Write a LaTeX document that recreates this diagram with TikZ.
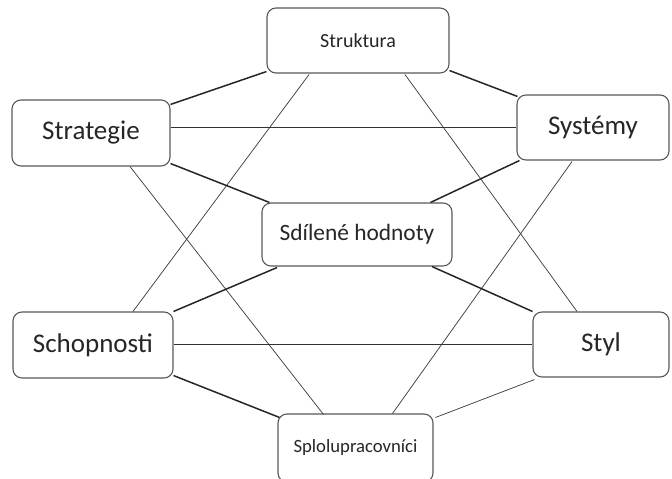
\documentclass[tikz,border=0pt]{standalone}
\usepackage{fontspec}
\setmainfont{Carlito}
\usetikzlibrary{calc}

\begin{document}
\begin{tikzpicture}[x=1pt,y=-1pt,
  box/.style={draw=black!65, line width=1.1pt, rounded corners=9pt,
    fill=white, inner sep=0pt, text=black!85},
  bold/.style={draw=black!85, line width=1.5pt},
  mid/.style={draw=black!80, line width=1.0pt},
  thin/.style={draw=black!75, line width=0.75pt}]

\useasboundingbox (0,0) rectangle (672,479);

% the seven elements
\node[box, minimum width=182pt, minimum height=65pt, font=\fontsize{20}{24}\selectfont]
  (struk) at (358,40.5) {Struktura};
\node[box, minimum width=158pt, minimum height=66pt, font=\fontsize{27}{32}\selectfont]
  (strat) at (91,133) {Strategie};
\node[box, minimum width=152pt, minimum height=65pt, font=\fontsize{27}{32}\selectfont]
  (syst) at (593,127.5) {Systémy};
\node[box, minimum width=190pt, minimum height=63pt, font=\fontsize{23.4}{28}\selectfont]
  (sdil) at (357,234.5) {Sdílené hodnoty};
\node[box, minimum width=160pt, minimum height=66pt, font=\fontsize{27}{32}\selectfont]
  (schop) at (93,345) {Schopnosti};
\node[box, minimum width=136pt, minimum height=65pt, font=\fontsize{27}{32}\selectfont]
  (styl) at (601,344.5) {Styl};
\node[box, minimum width=155pt, minimum height=68pt, font=\fontsize{18.7}{22}\selectfont]
  (splo) at (355.5,448) {Splolupracovníci};

% links between the elements
\draw[bold] ($(struk.south west)+(0,-2)$) -- ($(strat.north east)+(0,5)$);
\draw[bold] ($(struk.south east)+(0,-3)$) -- ($(syst.north west)+(1,2)$);
\draw[thin] ($(struk.south)+(-49,1)$) -- ($(schop.north)+(40,0)$);
\draw[thin] ($(struk.south)+(47,1)$) -- ($(styl.north)+(-24,0)$);
\draw[mid] ($(strat.east)+(0,-6)$) -- ($(syst.west)+(0,-0.5)$);
\draw[bold] ($(strat.south east)+(0,-3)$) -- ($(sdil.north west)+(8,0)$);
\draw[bold] ($(syst.south west)+(3,0)$) -- ($(sdil.north east)+(-22,0)$);
\draw[thin] ($(strat.south)+(39,0)$) -- ($(splo.north)+(-32,1)$);
\draw[thin] ($(syst.south)+(-21,1)$) -- ($(splo.north)+(37,0)$);
\draw[bold] ($(sdil.south)+(-80,1)$) -- (schop.north east);
\draw[bold] ($(sdil.south)+(75,0)$) -- (styl.north west);
\draw[mid] ($(schop.east)+(0,-1)$) -- ($(styl.west)+(0,-0.5)$);
\draw[bold] ($(schop.south east)+(0,-3)$) -- ($(splo.north west)+(2,4)$);
\draw[thin] ($(styl.south west)+(2,2)$) -- ($(splo.north east)+(2,4)$);

\end{tikzpicture}
\end{document}
